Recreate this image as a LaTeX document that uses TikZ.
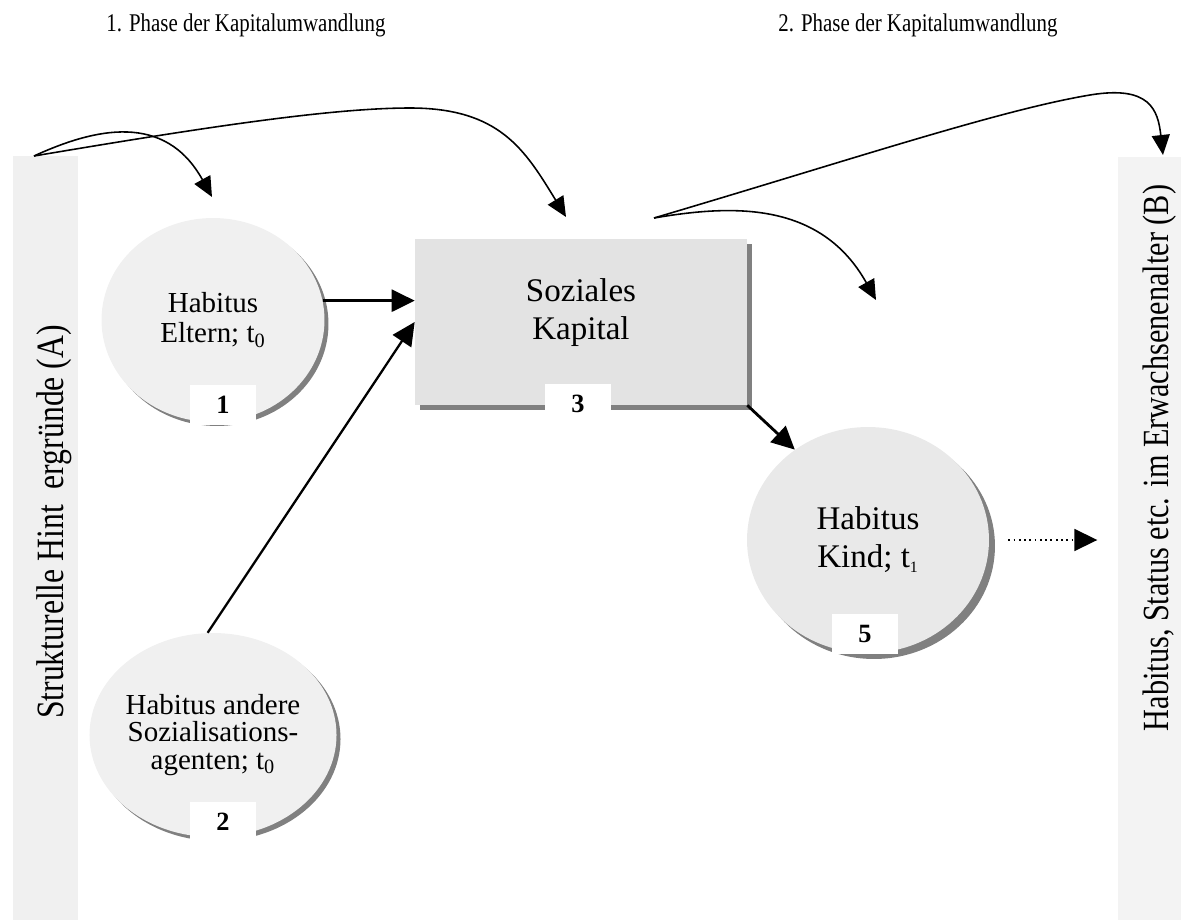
\documentclass[tikz,border=0pt]{standalone}
\usepackage{fontspec}
\setmainfont{Liberation Serif}
\newfontfamily\narrowserif[FakeStretch=0.82]{Liberation Serif}
\usetikzlibrary{shapes.geometric,shadows,arrows.meta}
\definecolor{barA}{gray}{.94}
\definecolor{barB}{gray}{.953}
\definecolor{circfill}{gray}{.94}
\definecolor{kindfill}{gray}{.915}
\definecolor{boxfill}{gray}{.89}
\definecolor{shadowgray}{gray}{.5}
\begin{document}
\begin{tikzpicture}[
 x=.02cm,y=-.02cm,
 curve/.style={line width=.9pt,-{Triangle[length=.4cm,width=.36cm]}},
 link/.style={line width=1.6pt,-{Triangle[length=.46cm,width=.44cm]}},
 habitus/.style={ellipse,fill=circfill,minimum width=4.46cm,minimum height=4.08cm,
  inner sep=0pt,align=center,
  drop shadow={shadow xshift=#1,shadow yshift=-#1,fill=shadowgray,opacity=1}},
 habitus/.default=.08cm,
 capital/.style={rectangle,fill=boxfill,minimum width=6.64cm,minimum height=3.32cm,
  drop shadow={shadow xshift=.1cm,shadow yshift=-.1cm,fill=shadowgray,opacity=1}},
 numbox/.style={rectangle,fill=white,minimum width=1.32cm,minimum height=.8cm,
  inner sep=0pt,font=\fontsize{15}{15}\selectfont\bfseries},
 bar/.style={rectangle,inner sep=0pt,anchor=north west,minimum height=15.4cm},
 heading/.style={font=\narrowserif\fontsize{14.5}{14.5}\selectfont},
 every node/.style={font=\fontsize{16.5}{17}\selectfont}]
 \useasboundingbox (0,0) rectangle (1181,920);
 % side bars with the start and end states
 \node[bar,fill=barA,minimum width=1.3cm] (strA) at (13,156){};
 \node[bar,fill=barB,minimum width=1.4cm] (habB) at (1118,157){};
 \node[rotate=90,font=\narrowserif\fontsize{22}{22}\selectfont] (strAtext) at (54,522)
  {Strukturelle Hint\ \ ergründe (A)};
 \node[rotate=90,font=\narrowserif\fontsize{21}{21}\selectfont] (habBtext) at (1160,458)
  {Habitus, Status etc. im Erwachsenenalter (B)};
 % phase headings
 \node[heading] (ph1) at (246,25){1. Phase der Kapitalumwandlung};
 \node[heading] (ph2) at (918,25){2. Phase der Kapitalumwandlung};
 % habitus ellipses and the capital box
 \node[habitus] (hE) at (213,320){Habitus\\Eltern; t\textsubscript{0}};
 \node[habitus,font=\fontsize{16.5}{15.5}\selectfont] (hA) at (213,735)
  {Habitus andere\\Sozialisations-\\agenten; t\textsubscript{0}};
 \node[habitus=.12cm,fill=kindfill,minimum width=4.84cm,minimum height=4.52cm,
  font=\fontsize{18.8}{21.6}\selectfont] (hK) at (868,540)
  {Habitus\\Kind; t\textsubscript{\fontsize{9}{9}\selectfont 1}};
 \node[capital] (sk) at (581,322){};
 \node[align=center,font=\fontsize{18.8}{21.6}\selectfont] (sktext) at (581,313){Soziales\\Kapital};
 \foreach \nr/\px/\py in {1/223/405,2/223/822,3/578/404,5/865/634}
  \node[numbox] (n\nr) at (\px,\py){\nr};
 % curved transfer arrows from the bars' tops
 \coordinate (a0) at (34,156); \coordinate (b0) at (654,218);
 \coordinate (tipE) at (212,197); \coordinate (tipS) at (566,217);
 \coordinate (tipK) at (876,300); \coordinate (tipB) at (1163,155);
 \draw[curve] (a0) .. controls (95,128) and (165,112) .. (tipE);
 \draw[curve] (a0) .. controls (200,128) and (330,108) .. (410,108)
  .. controls (500,108) and (525,150) .. (tipS);
 \draw[curve] (b0) .. controls (730,205) and (820,200) .. (tipK);
 \draw[curve] (b0) .. controls (850,160) and (1000,110) .. (1090,95)
  .. controls (1150,85) and (1158,110) .. (tipB);
 % straight links
 \draw[link] (hE.10) -- (hE.10 -| sk.west);
 \draw[link,line width=1.3pt] (hA.93) -- (sk.west);
 \draw[link] (sk.south east) -- (hK.129);
 \draw[link,line width=1pt,dotted] ([xshift=.38cm]hK.east) -- ([xshift=2.16cm]hK.east);
\end{tikzpicture}
\end{document}
